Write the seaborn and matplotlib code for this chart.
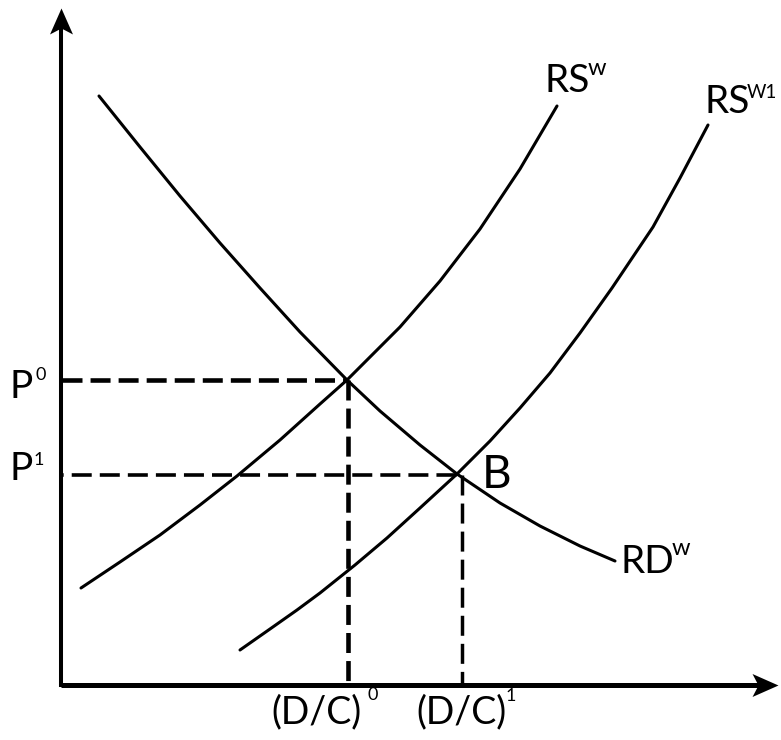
import numpy as np
import pandas as pd
import matplotlib
matplotlib.use("Agg")
import matplotlib.pyplot as plt
from matplotlib.path import Path
import seaborn as sns

# ---------------- data (quantity / price units measured from the origin) ----------------
rd_q = [37, 78, 118, 158, 198, 238, 285, 318, 358, 395, 438, 478, 518, 553]
rd_p = [589, 538, 489, 442, 397, 353, 305, 274, 240, 211, 182, 159, 139, 124]

rs0_q = [19, 58, 98, 138, 175, 218, 258, 285, 313, 338, 378, 418, 458, 495]
rs0_p = [97, 123, 150, 180, 209, 245, 281, 305, 333, 358, 404, 456, 516, 579]

rs1_q = [178, 208, 235, 258, 293, 325, 358, 395, 428, 458, 488, 518, 550, 591, 618, 646]
rs1_p = [35, 56, 75, 92, 120, 147, 177, 211, 244, 277, 312, 352, 397, 458, 507, 560]

P0, P1 = 305, 210
Q0, Q1 = 286, 400

curves = pd.concat([
    pd.DataFrame({"q": rd_q, "p": rd_p, "curve": "RD"}),
    pd.DataFrame({"q": rs0_q, "p": rs0_p, "curve": "RS"}),
    pd.DataFrame({"q": rs1_q, "p": rs1_p, "curve": "RS1"}),
])

# ---------------- style ----------------
sns.set_theme(style="white")
plt.rcParams["font.family"] = ["Lato", "DejaVu Sans"]
plt.rcParams["lines.scale_dashes"] = False

fig = plt.figure(figsize=(7.81, 7.4), dpi=100)
ax = fig.add_axes([0, 0, 1, 1])
ax.set_xlim(-62, 719)
ax.set_ylim(-55, 685)
ax.axis("off")

# curves
for name, grp in curves.groupby("curve"):
    sns.lineplot(data=grp, x="q", y="p", sort=False, estimator=None,
                 color="black", lw=2.2, ax=ax, legend=False)

# dashed guides
heavy = dict(color="black", lw=3.3, linestyle=(0, (14.4, 5.8)), dash_capstyle="butt")
light = dict(color="black", lw=2.6, linestyle=(13.2, (14.4, 5.8)), dash_capstyle="butt")
ax.plot([0, Q0], [P0, P0], **heavy)
ax.plot([Q0, Q0], [P0, 0], **heavy)
ax.plot([0, Q1], [P1, P1], **light)
ax.plot([Q1, Q1], [P1, 0], color="black", lw=2.5, linestyle=(0, (14.4, 5.8)))

# axes with arrowheads
ax.plot([-1, -1], [0, 662], color="black", lw=2.9, solid_capstyle="projecting")
ax.plot([-1, 700], [0, 0], color="black", lw=3.6, solid_capstyle="butt")
up = Path([(0, 0), (-11.5, -26), (0, -20), (11.5, -26), (0, 0)],
          [Path.MOVETO, Path.LINETO, Path.LINETO, Path.LINETO, Path.CLOSEPOLY])
right = Path([(0, 0), (-26, 11.5), (-20, 0), (-26, -11.5), (0, 0)],
             [Path.MOVETO, Path.LINETO, Path.LINETO, Path.LINETO, Path.CLOSEPOLY])
ax.plot([-1], [677], marker=up, markersize=37.4, color="black", markeredgewidth=0)
ax.plot([716], [0], marker=right, markersize=37.4, color="black", markeredgewidth=0)

# labels
main = 28
def label(x, y, s, size=main):
    ax.text(x, y, s, fontsize=size, ha="left", va="baseline", color="black")

label(-52, 287, "P"); label(-26, 305, "0", 13)
label(-52, 205, "P"); label(-28, 220, "1", 13)
label(209, -38, "(D/C)", 27); label(305, -15, "0", 13)
label(354, -38, "(D/C)", 27); label(444, -16, "1", 13)
label(420, 197, "B", 33)
label(558, 112, "RD"); label(610, 130, "w", 17)
label(482, 593, "RS"); label(526, 610, "w", 17)
label(642, 572, "RS"); label(685, 587, "W1", 13.5)

fig.savefig("out.png", dpi=100)
